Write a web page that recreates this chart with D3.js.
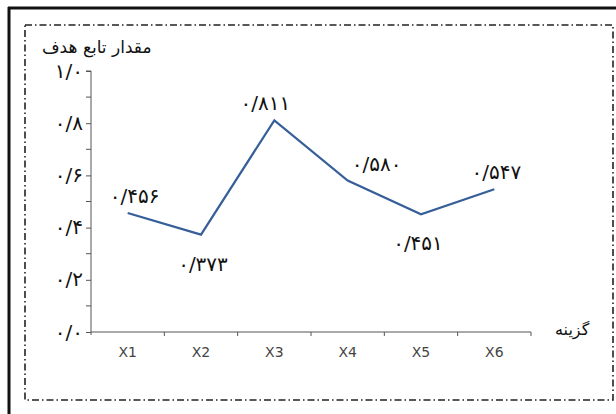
<!DOCTYPE html>
<html>
<head>
<meta charset="utf-8">
<script src="https://cdn.jsdelivr.net/npm/d3@7"></script>
<style>
  body { margin: 0; background: #fff; }
  svg { display: block; }
  .fa { font-family: "DejaVu Sans", sans-serif; fill: #111; }
  .xaxis text { font-family: "DejaVu Sans", sans-serif; font-size: 14px; fill: #444; }
  .axis path, .axis line { stroke: #555; }
</style>
</head>
<body>
<svg id="chart"></svg>
<script>
// data
var categories = ["X1", "X2", "X3", "X4", "X5", "X6"];
var values = [0.456, 0.373, 0.811, 0.580, 0.451, 0.547];
var valueLabels = ["۰/۴۵۶", "۰/۳۷۳", "۰/۸۱۱", "۰/۵۸۰", "۰/۴۵۱", "۰/۵۴۷"];
var yTicks = [0, 0.2, 0.4, 0.6, 0.8, 1.0];
var yMinorTicks = [0.1, 0.3, 0.5, 0.7, 0.9];
var yTitle = "مقدار تابع هدف";
var xTitle = "گزینه";

var screen = { width: 616, height: 414 };
var margins = { top: 71, bottom: 82, left: 91, right: 85 };
var graph = {
  width: screen.width - margins.left - margins.right,
  height: screen.height - margins.top - margins.bottom
};

var svg = d3.select("#chart").attr("width", screen.width).attr("height", screen.height);

// persian digits with slash decimal
var faDigits = "۰۱۲۳۴۵۶۷۸۹";
var toFa = function (v) {
  return d3.format(".1f")(v).replace(/\d/g, function (d) { return faDigits[+d]; }).replace(".", "/");
};

// outer border (top + left) and dash-dot frame
svg.append("line").attr("x1", 8).attr("x2", screen.width).attr("y1", 8).attr("y2", 8)
  .attr("stroke", "#111").attr("stroke-width", 3);
svg.append("line").attr("x1", 9).attr("x2", 9).attr("y1", 7).attr("y2", screen.height)
  .attr("stroke", "#111").attr("stroke-width", 3);
svg.append("rect").attr("x", 25).attr("y", 25).attr("width", 588).attr("height", 375)
  .attr("fill", "none").attr("stroke", "#222").attr("stroke-width", 1.6)
  .attr("stroke-dasharray", "7,3,1.5,3");

var xScale = d3.scaleBand().domain(categories).range([0, graph.width]);
var yScale = d3.scaleLinear().domain([0, 1]).range([graph.height, 0]);

var g = svg.append("g").attr("transform", "translate(" + margins.left + "," + margins.top + ")");

// x axis: ticks at band edges, labels at centers
var xAxis = g.append("g").classed("axis xaxis", true)
  .attr("transform", "translate(0," + graph.height + ")");
xAxis.append("line").attr("x1", 0).attr("x2", graph.width).attr("stroke", "#555");
var edges = categories.map(function (c) { return xScale(c) + xScale.bandwidth(); });
xAxis.selectAll(".tk").data(edges).enter().append("line")
  .attr("x1", function (d) { return d; }).attr("x2", function (d) { return d; })
  .attr("y1", 0).attr("y2", 4).attr("stroke", "#555");
xAxis.selectAll("text").data(categories).enter().append("text")
  .attr("x", function (d) { return xScale(d) + xScale.bandwidth() / 2; })
  .attr("y", 25).attr("text-anchor", "middle").text(function (d) { return d; });

// y axis
var yAxis = d3.axisLeft(yScale).tickValues(yTicks).tickSize(5).tickFormat(toFa);
var yg = g.append("g").classed("axis yaxis", true).call(yAxis);
yg.select(".domain").attr("d", "M0," + (graph.height + 3) + "V0H-5");
yg.selectAll("text").attr("class", "fa").style("font-size", "20px")
  .style("letter-spacing", "1px").attr("x", -8).attr("dy", "0.3em");
yg.selectAll(".minor").data(yMinorTicks).enter().append("line").classed("minor", true)
  .attr("x1", -5).attr("x2", 0)
  .attr("y1", function (d) { return yScale(d); }).attr("y2", function (d) { return yScale(d); })
  .attr("stroke", "#555");

// line
var line = d3.line()
  .x(function (d, i) { return xScale(categories[i]) + xScale.bandwidth() / 2; })
  .y(function (d) { return yScale(d); });
g.append("path").datum(values).attr("d", line)
  .attr("fill", "none").attr("stroke", "#365f99").attr("stroke-width", 2.2);

// value labels: local minima below, others above
var nudgeX = [7, 2, -9, 29, -3, 2];
g.selectAll(".vl").data(values).enter().append("text").attr("class", "fa vl")
  .style("font-size", "20px").style("letter-spacing", "1.5px")
  .attr("text-anchor", "middle").attr("direction", "ltr")
  .attr("x", function (d, i) { return xScale(categories[i]) + xScale.bandwidth() / 2 + nudgeX[i]; })
  .attr("y", function (d, i) {
    var prev = i > 0 ? values[i - 1] : Infinity;
    var next = i < values.length - 1 ? values[i + 1] : Infinity;
    var below = d < prev && d < next;
    return yScale(d) + (below ? 36 : -10);
  })
  .text(function (d, i) { return valueLabels[i]; });

// titles
svg.append("text").attr("class", "fa").style("font-size", "17px")
  .attr("x", 42).attr("y", 53).attr("text-anchor", "start").text(yTitle);
svg.append("text").attr("class", "fa").style("font-size", "16px")
  .attr("x", 555).attr("y", 335).attr("text-anchor", "start").text(xTitle);
</script>
</body>
</html>
